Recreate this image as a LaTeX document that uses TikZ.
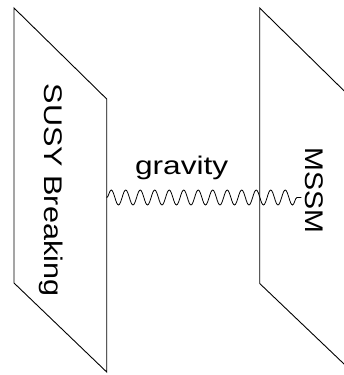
\documentclass[tikz,border=0pt]{standalone}
\usepackage{fontspec}
\setmainfont{Liberation Sans}
\usetikzlibrary{decorations.pathmorphing}

\begin{document}
\begin{tikzpicture}[
            x = 1pt, y = 1pt, % one unit per pixel
            line join = miter,
            thick % line style
        ]

        \tikzstyle{brane}=[
            draw = black,
            line width = 0.9pt
        ]
        \tikzstyle{graviton}=[
            draw = black,
            line width = 0.8pt,
            decorate,
            decoration = {snake, segment length = 14.5pt, amplitude = 7.5pt}
        ]
        \tikzstyle{label}=[
            text = black,
            font = \fontsize{25.5}{30}\selectfont,
            inner sep = 3pt
        ]

        \clip (0,0) rectangle (344,375);

        % hidden sector
        \draw[brane] (14,367) -- (106.7,276) -- (106.7,3) -- (14,92) -- cycle;
        % visible sector
        \draw[brane] (259.7,367) -- (352.4,276) -- (352.4,3) -- (259.7,91.5) -- cycle;

        \coordinate (hid) at (106.7,177.5);

        \node[label, rotate=-90, xscale=1.2, anchor=base] (susy) at (45,185) {SUSY Breaking};
        \node[label, rotate=-90, xscale=1.12, anchor=base] (mssm) at (305,184.2) {MSSM};
        \node[label, xscale=1.24, anchor=base] (grav) at (181.7,200) {gravity};

        \path[graviton] (hid) -- (hid -| mssm.south);
    \end{tikzpicture}
\end{document}
